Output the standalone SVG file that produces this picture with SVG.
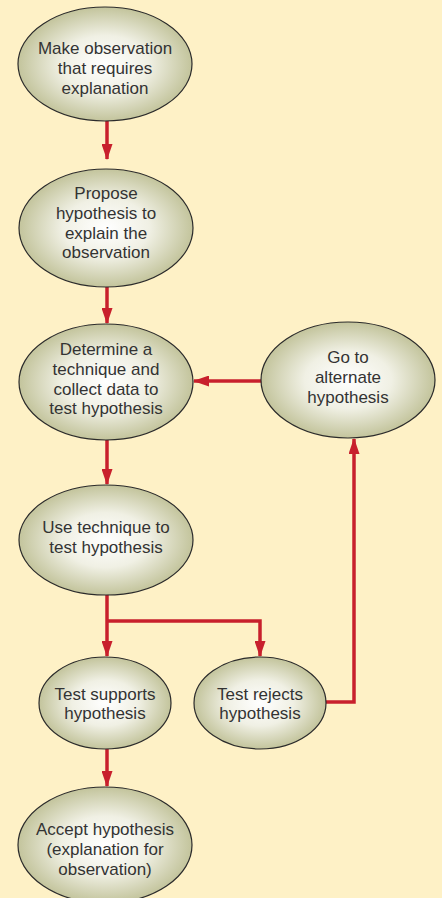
<svg xmlns="http://www.w3.org/2000/svg" width="442" height="898" viewBox="0 0 442 898">
<defs>
<radialGradient id="g" cx="50%" cy="50%" r="50%">
<stop offset="0" stop-color="#ffffff"/>
<stop offset="0.5" stop-color="#f0f0e4"/>
<stop offset="1" stop-color="#c3c49c"/>
</radialGradient>
<marker id="ah" markerWidth="16" markerHeight="11" refX="15" refY="5.5" orient="auto" markerUnits="userSpaceOnUse" viewBox="0 0 16 11">
<path d="M0,0 L16,5.5 L0,11 Z" fill="#c8202c"/>
</marker>
<style>
.n ellipse{fill:url(#g);stroke:#2b2b2b;stroke-width:1.2}
.n text{font-family:"Liberation Sans",Arial,sans-serif;font-size:17px;fill:#333333;text-anchor:middle}
.c path{fill:none;stroke:#c8202c;stroke-width:3.5}
</style>
</defs>
<rect width="442" height="898" fill="#fef1c6"/>
<g class="c">
<path d="M107,121 V159" marker-end="url(#ah)"/>
<path d="M107,287 V323" marker-end="url(#ah)"/>
<path d="M107,440 V484" marker-end="url(#ah)"/>
<path d="M262,381 H194" marker-end="url(#ah)"/>
<path d="M107,594 V656" marker-end="url(#ah)"/>
<path d="M107,621 H260 V656" marker-end="url(#ah)"/>
<path d="M326,702 H354 V439" marker-end="url(#ah)"/>
<path d="M107,749 V786" marker-end="url(#ah)"/>
</g>
<g class="n" id="n1">
<ellipse cx="105" cy="64" rx="87" ry="57"/>
<text x="105" y="54">Make observation</text>
<text x="105" y="74">that requires</text>
<text x="105" y="94">explanation</text>
</g>
<g class="n" id="n2">
<ellipse cx="106" cy="228" rx="87" ry="59"/>
<text x="106" y="199">Propose</text>
<text x="106" y="219">hypothesis to</text>
<text x="106" y="239">explain the</text>
<text x="106" y="258">observation</text>
</g>
<g class="n" id="n3">
<ellipse cx="106" cy="382" rx="87" ry="58"/>
<text x="106" y="355">Determine a</text>
<text x="106" y="375">technique and</text>
<text x="106" y="395">collect data to</text>
<text x="106" y="414">test hypothesis</text>
</g>
<g class="n" id="n4">
<ellipse cx="348" cy="380" rx="87" ry="58"/>
<text x="348" y="363">Go to</text>
<text x="348" y="383">alternate</text>
<text x="348" y="403">hypothesis</text>
</g>
<g class="n" id="n5">
<ellipse cx="106" cy="540" rx="87" ry="55"/>
<text x="106" y="533">Use technique to</text>
<text x="106" y="553">test hypothesis</text>
</g>
<g class="n" id="n6">
<ellipse cx="105" cy="703" rx="66" ry="46"/>
<text x="105" y="700">Test supports</text>
<text x="105" y="719">hypothesis</text>
</g>
<g class="n" id="n7">
<ellipse cx="260" cy="703" rx="66" ry="46"/>
<text x="260" y="700">Test rejects</text>
<text x="260" y="719">hypothesis</text>
</g>
<g class="n" id="n8">
<ellipse cx="105" cy="845" rx="87" ry="58"/>
<text x="105" y="835">Accept hypothesis</text>
<text x="105" y="855">(explanation for</text>
<text x="105" y="875">observation)</text>
</g>
</svg>
